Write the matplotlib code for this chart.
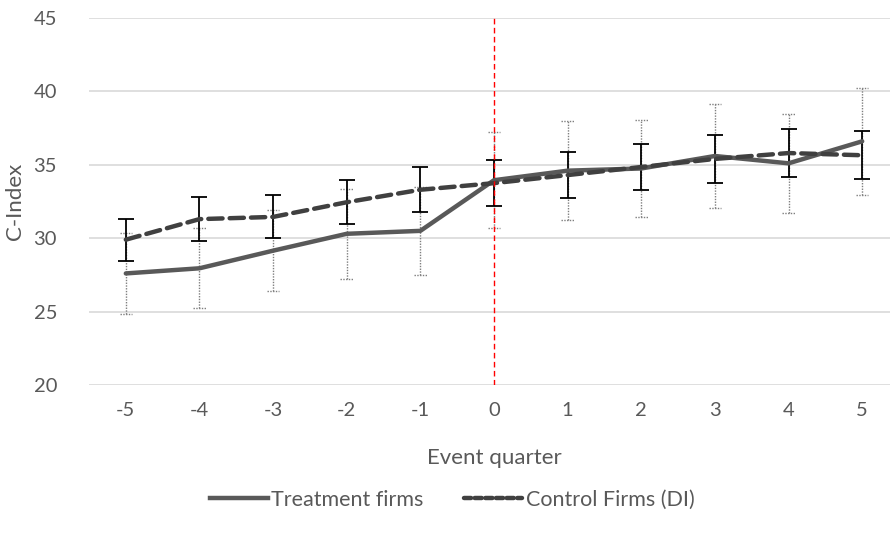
import matplotlib
matplotlib.use("Agg")
import matplotlib.pyplot as plt
import numpy as np
from matplotlib.lines import Line2D

quarters = [-5, -4, -3, -2, -1, 0, 1, 2, 3, 4, 5]
treatment = [27.6, 27.95, 29.15, 30.3, 30.5, 33.95, 34.6, 34.75, 35.6, 35.1, 36.6]
treatment_err = [2.77, 2.72, 2.78, 3.05, 2.98, 3.26, 3.35, 3.31, 3.51, 3.36, 3.64]
control = [29.9, 31.3, 31.45, 32.45, 33.3, 33.75, 34.3, 34.85, 35.4, 35.8, 35.65]
control_err = [1.42, 1.5, 1.47, 1.49, 1.53, 1.55, 1.59, 1.59, 1.63, 1.62, 1.65]
yticks = [20, 25, 30, 35, 40, 45]

plt.rcParams['font.family'] = ['Lato', 'DejaVu Sans']
txt = '#595959'

fig = plt.figure(figsize=(8.9, 5.4), dpi=100)
ax = fig.add_axes([89/890, 1-385/540, 810/890, 367/540])

ax.set_ylim(20, 45)
ax.set_xlim(-5.5, 5.5)
ax.set_yticks(yticks)
ax.set_xticks(quarters)
ax.set_xticklabels([str(q) for q in quarters])
ax.yaxis.grid(True, color='#d9d9d9', lw=1.2)
ax.set_axisbelow(True)
for s in ax.spines.values():
    s.set_visible(False)
ax.tick_params(length=0, labelsize=14.5, colors=txt, pad=12)
ax.tick_params(axis='y', pad=23)

# treatment error bars (dotted grey, with dotted caps)
x = np.array(quarters, dtype=float)
t = np.array(treatment)
te = np.array(treatment_err)
cap = 0.085
dot = (0, (1, 1))
ax.vlines(x, t - te, t + te, colors='#7f7f7f', lw=1.0, linestyles=[dot], zorder=2)
ax.hlines(t + te, x - cap, x + cap, colors='#7f7f7f', lw=1.0, linestyles=[dot], zorder=2)
ax.hlines(t - te, x - cap, x + cap, colors='#7f7f7f', lw=1.0, linestyles=[dot], zorder=2)

# control error bars (solid black)
ax.errorbar(quarters, control, yerr=control_err, fmt='none', ecolor='black',
            elinewidth=1.3, capsize=6, capthick=1.3, zorder=3)

ax.plot(quarters, treatment, color='#595959', lw=3.2, solid_capstyle='round', zorder=4)
ax.plot(quarters, control, color='#404040', lw=3.2, dashes=(3.2, 1.6),
        dash_capstyle='round', zorder=4)

ax.axvline(0, color='red', lw=1.0, ls=(0, (4, 2.5)), zorder=5)

ax.set_xlabel('Event quarter', fontsize=16, color=txt, labelpad=21)
ax.set_ylabel('C-Index', fontsize=16, color=txt, labelpad=6)

handles = [Line2D([], [], color='#595959', lw=3.2),
           Line2D([], [], color='#404040', lw=3.2, dashes=(1.6, 0.8), dash_capstyle='round')]
fig.legend(handles, ['Treatment firms', 'Control Firms (DI)'], loc='center',
           bbox_to_anchor=(452/890, 1-500/540), ncol=2, frameon=False,
           fontsize=15.5, labelcolor=txt, handlelength=2.7, handletextpad=0.15,
           columnspacing=1.9)

fig.savefig('out.png', dpi=100)
